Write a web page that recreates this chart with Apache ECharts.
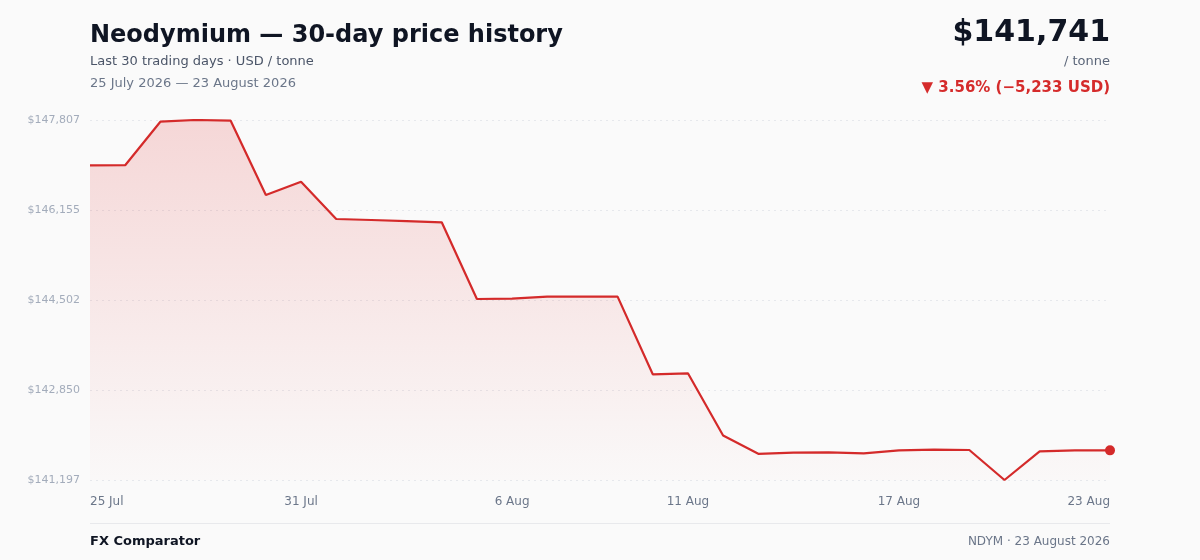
<!DOCTYPE html>
<html>
<head>
<meta charset="utf-8">
<script src="https://cdn.jsdelivr.net/npm/echarts@6/dist/echarts.min.js"></script>
<style>
html,body{margin:0;padding:0;background:#fafafa;}
#chart{width:1200px;height:560px;}
</style>
</head>
<body>
<div id="chart"></div>
<script>
const categories = ["25 Jul","26 Jul","27 Jul","28 Jul","29 Jul","30 Jul","31 Jul","1 Aug","2 Aug","3 Aug","4 Aug","5 Aug","6 Aug","7 Aug","8 Aug","9 Aug","10 Aug","11 Aug","12 Aug","13 Aug","14 Aug","15 Aug","16 Aug","17 Aug","18 Aug","19 Aug","20 Aug","21 Aug","22 Aug","23 Aug"];
const prices = [146974,146976,147776,147807,147794,146430,146674,145989,145971,145952,145929,144520,144526,144563,144563,144564,143138,143156,142014,141678,141698,141706,141687,141742,141753,141748,141197,141724,141740,141741];
const shownLabelIdx = [0,6,12,17,23,29];
const yMin = 141197, yMax = 147807;

const fontFamily = "DejaVu Sans, sans-serif";
const last = prices[prices.length-1];
const first = prices[0];
const diff = last - first;
const pct = Math.abs(diff/first*100).toFixed(2);
const fmt = v => Math.round(v).toLocaleString('en-US');

const chart = echarts.init(document.getElementById('chart'), null, {renderer:'canvas'});
chart.setOption({
  backgroundColor:'#fafafa',
  animation:false,
  textStyle:{fontFamily},
  title:[
    {text:'Neodymium — 30-day price history', left:90, top:24, padding:0,
     textStyle:{fontFamily, fontSize:24, fontWeight:'bold', color:'#0f1523'}},
    {text:'Last 30 trading days · USD / tonne', left:90, top:55, padding:0,
     textStyle:{fontFamily, fontSize:13, fontWeight:'normal', color:'#4b5568'}},
    {text:'25 July 2026 — 23 August 2026', left:90, top:77, padding:0,
     textStyle:{fontFamily, fontSize:13, fontWeight:'normal', color:'#6b7689'}},
    {text:'$' + fmt(last), right:90, top:18, padding:0,
     textStyle:{fontFamily, fontSize:30, fontWeight:'bold', color:'#0f1523'}},
    {text:'/ tonne', right:90, top:55, padding:0,
     textStyle:{fontFamily, fontSize:13, fontWeight:'normal', color:'#5b6679'}},
    {text:'▼ ' + pct + '% (−' + fmt(Math.abs(diff)) + ' USD)', right:90, top:81, padding:0,
     textStyle:{fontFamily, fontSize:15, fontWeight:'bold', color:'#d52b2b'}},
    {text:'FX Comparator', left:90, top:535, padding:0,
     textStyle:{fontFamily, fontSize:13, fontWeight:'bold', color:'#0f1523'}},
    {text:'NDYM · 23 August 2026', right:90, top:536, padding:0,
     textStyle:{fontFamily, fontSize:12, fontWeight:'normal', color:'#6b7689'}}
  ],
  graphic:[
    {type:'rect', shape:{x:90, y:523, width:1020, height:1}, style:{fill:'#e8e9ec'}}
  ],
  grid:{left:90, right:90, top:120, bottom:80, containLabel:false},
  xAxis:{
    type:'category', data:categories, boundaryGap:false,
    axisLine:{show:false}, axisTick:{show:false},
    splitLine:{show:false},
    axisLabel:{
      interval:(i)=>shownLabelIdx.includes(i),
      color:'#6b7689', fontSize:12, fontFamily, margin:16,
      alignMinLabel:'left', alignMaxLabel:'right'
    }
  },
  yAxis:{
    type:'value', min:yMin, max:yMax, interval:(yMax-yMin)/4,
    axisLine:{show:false}, axisTick:{show:false},
    axisLabel:{formatter:v=>'$'+fmt(v), color:'#a3acbb', fontSize:11, fontFamily, margin:10},
    splitLine:{show:true, lineStyle:{color:'#e6e8ec', type:[2,4], width:1}}
  },
  series:[{
    type:'line', data:prices, symbol:'none', smooth:false,
    lineStyle:{color:'#d42a2a', width:2.2},
    areaStyle:{color:new echarts.graphic.LinearGradient(0,0,0,1,[
      {offset:0, color:'rgba(222,40,40,0.24)'},
      {offset:1, color:'rgba(222,40,40,0.01)'}
    ]), origin:'start'},
    markPoint:{
      symbol:'circle', symbolSize:10,
      itemStyle:{color:'#d42a2a'},
      label:{show:false},
      data:[{coord:[categories.length-1, last]}]
    }
  }]
});
</script>
</body>
</html>
